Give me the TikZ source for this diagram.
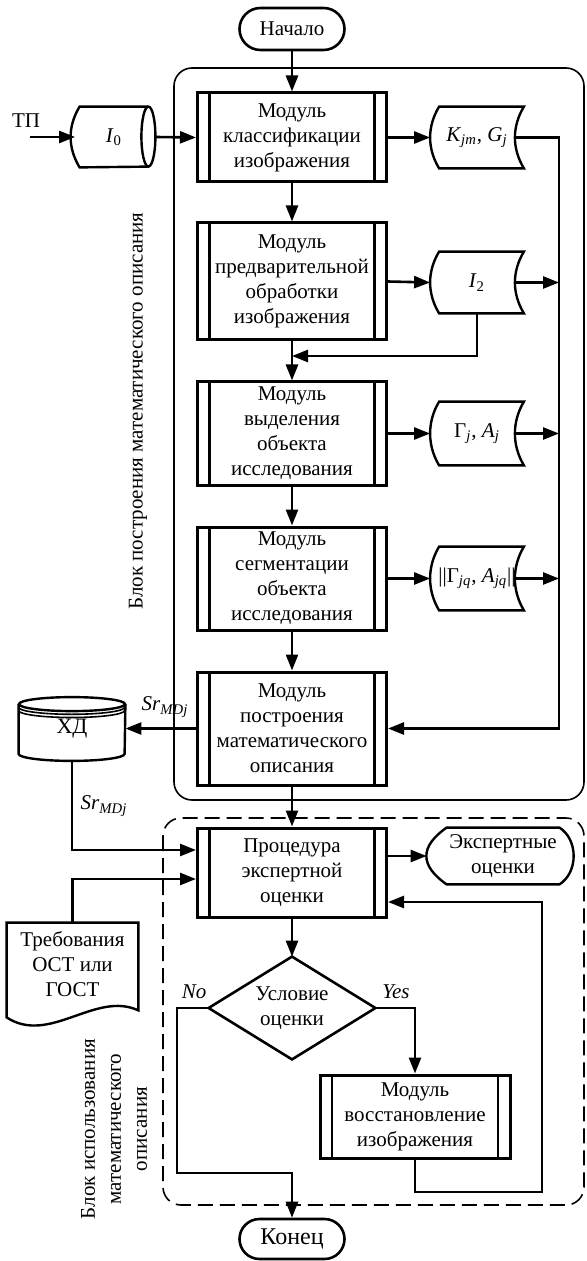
\documentclass[tikz,border=0pt]{standalone}
\usepackage{fontspec}
\setmainfont{Liberation Serif}
\usetikzlibrary{arrows.meta,shapes.misc,calc}
\newcommand\mfont{\fontsize{10.5}{12.5}\selectfont}
\newcommand\storeshape[1]{%
  \draw[line width=1.2pt] ([xshift=2.25pt]#1.north west) -- ([xshift=2.25pt]#1.north east)
    .. controls +(-12,20) and +(-12,-20) .. ([xshift=2.25pt]#1.south east)
    -- ([xshift=2.25pt]#1.south west)
    .. controls +(-12,-20) and +(-12,20) .. ([xshift=2.25pt]#1.north west) -- cycle;}
\begin{document}
\begin{tikzpicture}[x=0.5pt,y=-0.5pt,
  mod/.style={draw, line width=1.5pt, minimum width=94.5pt, inner sep=0pt, align=center, font=\mfont,
    path picture={\draw[line width=1.2pt]
      ([xshift=6pt]path picture bounding box.north west) -- ([xshift=6pt]path picture bounding box.south west)
      ([xshift=-6pt]path picture bounding box.north east) -- ([xshift=-6pt]path picture bounding box.south east);}},
  store/.style={minimum width=42pt, inner sep=0pt, font=\mfont, align=center},
  term/.style={draw, rounded rectangle, line width=1.3pt, minimum width=52.5pt, inner sep=0pt},
  arr/.style={line width=1.3pt, -{Triangle[length=8pt,width=6pt]}},
  ln/.style={line width=1.3pt},
  lab/.style={font=\mfont, inner sep=0pt}]
\useasboundingbox (0,0) rectangle (586,1261);

% frames
\draw[line width=0.8pt, rounded corners=9pt] (174,68) rectangle (584,800);
\draw[line width=0.8pt, dash pattern=on 7.5pt off 3.5pt, rounded corners=9pt] (163,818) rectangle (584,1205);

% terminals
\node[term, minimum height=21pt, font=\fontsize{10.5}{12.5}\selectfont] (start) at (292,29) {Начало};
\node[term, minimum height=20pt, font=\fontsize{12}{14}\selectfont] (end) at (292,1239) {Конец};

% modules
\node[mod, minimum height=44.5pt] (m1) at (292,137.5) {Модуль\\классификации\\изображения};
\node[mod, minimum height=58.5pt] (m2) at (292,281.5) {Модуль\\предварительной\\обработки\\изображения};
\node[mod, minimum height=51.5pt] (m3) at (292,433.5) {Модуль\\выделения\\объекта\\исследования};
\node[mod, minimum height=51.5pt] (m4) at (292,578.5) {Модуль\\сегментации\\объекта\\исследования};
\node[mod, minimum height=56.5pt] (m5) at (292,728.5) {Модуль\\построения\\математического\\описания};
\node[mod, minimum height=44.5pt] (proc) at (292,872.5) {Процедура\\экспертной\\оценки};
\node[mod, minimum height=41.5pt, minimum width=95pt] (rest) at (415,1116.5) {Модуль\\восстановление\\изображения};

% stored data
\node[store, minimum height=30.5pt] (k) at (477,137.5) {\textit{K}\textsubscript{\textit{jm}}, \textit{G}\textsubscript{\textit{j}}};
\node[store, minimum height=30.5pt] (i2) at (477,282.5) {\textit{I}\textsubscript{2}};
\node[store, minimum height=31.5pt] (g) at (477,433.5) {Γ\textsubscript{\textit{j}}, \textit{A}\textsubscript{\textit{j}}};
\node[store, minimum height=31.5pt] (gq) at (477,578.5) {||Γ\textsubscript{\textit{jq}}, \textit{A}\textsubscript{\textit{jq}}||};
\storeshape{k}\storeshape{i2}\storeshape{g}\storeshape{gq}

% input cylinder I0
\node[minimum width=34pt, minimum height=30pt, inner sep=0pt, font=\mfont] (i0) at (114,137) {\textit{I}\textsubscript{0}};
\draw[line width=1.2pt] (i0.north west) -- (i0.north east)
  arc[start angle=90, end angle=-90, x radius=3.5pt, y radius=15pt] -- (i0.south west)
  .. controls +(-12,-20) and +(-12,20) .. (i0.north west) -- cycle;
\draw[line width=1.2pt] (i0.north east) arc[start angle=90, end angle=270, x radius=3.5pt, y radius=15pt];

% database
\node[minimum width=53pt, minimum height=24.5pt, inner sep=0pt, font=\fontsize{11}{13}\selectfont] (hd) at (72,729) {ХД};
\draw[line width=1.2pt] (hd.north west) -- (hd.south west)
  arc[start angle=180, end angle=360, x radius=26.5pt, y radius=3.5pt] -- (hd.north east);
\draw[line width=1.2pt] (hd.north) ellipse[x radius=26.5pt, y radius=3.5pt];
\draw[line width=0.8pt] ([yshift=-1.6pt]hd.north west) arc[start angle=180, end angle=360, x radius=26.5pt, y radius=3.5pt];
\draw[line width=0.8pt] ([yshift=-3.2pt]hd.north west) arc[start angle=180, end angle=360, x radius=26.5pt, y radius=3.5pt];

% document
\node[minimum width=65.5pt, minimum height=41pt, inner sep=0pt, align=center, font=\mfont] (doc) at (72.5,964) {Требования\\ОСТ или\\ГОСТ};
\draw[line width=1.2pt] (doc.north west) -- (doc.north east) -- ($(doc.south east)+(0,5)$)
  .. controls +(-43,-20) and +(43,28) .. ($(doc.south west)+(0,12)$) -- cycle;

% display
\node[minimum width=56pt, minimum height=28pt, inner sep=0pt, align=center, font=\mfont] (ex) at (503,856) {Экспертные\\оценки};
\draw[line width=1.2pt] (ex.north west) -- (ex.north east)
  .. controls +(19,12) and +(19,-12) .. (ex.south east) -- (ex.south west)
  .. controls +(-27,-19) and +(-27,19) .. (ex.north west) -- cycle;

% decision
\node[minimum width=83pt, minimum height=51pt, inner sep=0pt, align=center, font=\mfont] (cond) at (292,1008) {Условие\\оценки};
\draw[line width=1.3pt] (cond.north) -- (cond.east) -- (cond.south) -- (cond.west) -- cycle;

% coordinates
\coordinate (tp) at (30,137);
\coordinate (bus) at (559,300);
\coordinate (j2) at (292,356);
\coordinate (nc) at (177,1173);
\coordinate (fb) at (542,1192);

% labels
\node[lab] (tpl) at (26,121) {ТП};
\node[lab] (sr1) at (165,707) {\textit{Sr}\textsubscript{\textit{MDj}}};
\node[lab] (sr2) at (104,806) {\textit{Sr}\textsubscript{\textit{MDj}}};
\node[lab] (no) at (194,992) {\textit{No}};
\node[lab] (yes) at (396,992) {\textit{Yes}};
\node[lab, rotate=90] (blk1) at (138,411) {Блок построения математического описания};
\node[lab, rotate=90, align=center, font=\fontsize{10.5}{13}\selectfont] (blk2) at (114,1129) {Блок использования\\математического\\описания};

% connectors
\draw[arr] (start.south) -- (m1.north);
\draw[arr] (tp) -- ([xshift=-2.25pt]i0.west);
\draw[arr] ([xshift=3.5pt]i0.east) -- (m1.west);
\draw[arr] (m1.east) -- ([xshift=-2.25pt]k.west);
\draw[arr] (m1.south) -- (m2.north);
\draw[arr] (m2.east) -- ([xshift=-2.25pt]i2.west);
\draw[arr] (m2.south) -- (m3.north);
\draw[arr] (i2.south) |- (j2);
\draw[arr] (m3.east) -- ([xshift=-2.25pt]g.west);
\draw[arr] (m3.south) -- (m4.north);
\draw[arr] (m4.east) -- ([xshift=-2.25pt]gq.west);
\draw[arr] (m4.south) -- (m5.north);
\draw[arr] ([xshift=-2.25pt]k.east) -| (bus) |- (m5.east);
\draw[arr] ([xshift=-2.25pt]i2.east) -- (i2.east -| bus);
\draw[arr] ([xshift=-2.25pt]g.east) -- (g.east -| bus);
\draw[arr] ([xshift=-2.25pt]gq.east) -- (gq.east -| bus);
\draw[arr] (m5.west) -- (m5.west -| hd.east);
\draw[arr] (m5.south) -- (proc.north);
\draw[arr] ([yshift=-3.5pt]hd.south) |- ([yshift=11.25pt]proc.west);
\draw[arr] (doc.north) |- ([yshift=-3.25pt]proc.west);
\draw[arr] ([yshift=8.25pt]proc.east) -- ([xshift=-10pt]ex.west);
\draw[arr] (proc.south) -- (cond.north);
\draw[arr] (cond.east) -| (rest.north);
\draw[arr] (cond.west) -| (nc) -| (end.north);
\draw[arr] (rest.south) |- (fb) |- ([yshift=-14.75pt]proc.east);
\end{tikzpicture}
\end{document}
